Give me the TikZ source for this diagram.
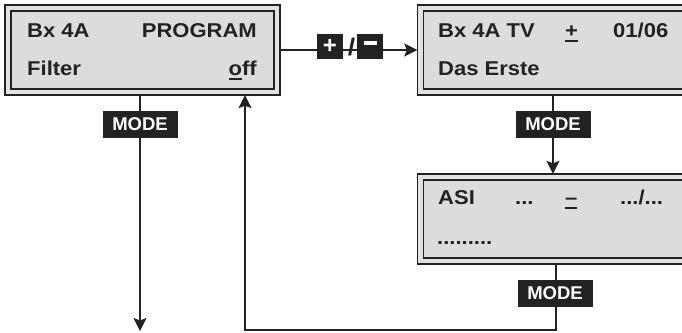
\documentclass[tikz,border=0pt]{standalone}
\usepackage{fontspec}
\setmainfont{Liberation Sans}
\newfontfamily\lcdfont{Liberation Sans}[FakeStretch=1.1]
\usepackage{xcolor}
\usepackage{tikz}
\usetikzlibrary{arrows.meta,positioning}
\definecolor{lcdgray}{HTML}{DCDCDC}
\definecolor{rimgray}{HTML}{E2E2E2}
\definecolor{inkdark}{HTML}{222222}
\newcommand\lcdmark[1]{\setbox0\hbox{#1}\rlap{\rule[-4.5pt]{\wd0}{2pt}}\box0}

\begin{document}
\begin{tikzpicture}[x=1pt,y=-1pt,
  lcdbox/.style={draw=inkdark,line width=1.5pt,double=rimgray,double distance=4.8pt,
    fill=lcdgray,outer sep=3.2pt,minimum height=84pt,inner sep=0pt},
  lcdtext/.style={font=\lcdfont\fontsize{20}{24}\selectfont\bfseries,text=inkdark,inner sep=0pt},
  keybox/.style={fill=inkdark,text=white,font=\fontsize{18.5}{20}\selectfont\bfseries,
    inner sep=0pt,minimum height=27pt},
  conn/.style={draw=inkdark,line width=1.3pt},
  tip/.style={-{Stealth[length=13pt,width=13pt,inset=2.5pt]}}]
  \useasboundingbox (0,0) rectangle (682,332);
  \clip (0,0) rectangle (682,332);

  % displays
  \node[lcdbox,minimum width=269pt] (prog) at (142.5,50) {};
  \node[lcdbox,minimum width=300pt] (tv) at (570.5,50) {};
  \node[lcdbox,minimum width=300pt] (asi) at (570.5,219) {};

  \node[lcdtext,anchor=base west] (progA) at (27,37) {Bx 4A};
  \node[lcdtext,anchor=base east] (progB) at (257,37) {PROGRAM};
  \node[lcdtext,anchor=base west] (progC) at (27,75) {Filter};
  \node[lcdtext,anchor=base east] (progD) at (257,75) {\lcdmark{o}ff};

  \node[lcdtext,anchor=base west] (tvA) at (438,37) {Bx 4A TV};
  \node[lcdtext,anchor=base west] (tvB) at (565,37) {\lcdmark{+}};
  \node[lcdtext,anchor=base west] (tvC) at (613,37) {01/06};
  \node[lcdtext,anchor=base west] (tvD) at (438,75) {Das Erste};

  \node[lcdtext,anchor=base west] (asiA) at (438,204) {ASI};
  \node[lcdtext,anchor=base west] (asiB) at (515,204) {...};
  \node[lcdtext,anchor=base west] (asiC) at (565,204) {\lcdmark{–}};
  \node[lcdtext,anchor=base west] (asiD) at (620,204) {.../...};
  \node[lcdtext,anchor=base west] (asiE) at (437,244) {.........};

  % connectors
  \coordinate (down1) at (140,331);
  \coordinate (down2) at (553,0);
  \coordinate (turn1) at (556,330);
  \coordinate (turn2) at (245,330);
  \draw[conn,tip] (prog.east) -- (tv.west);
  \draw[conn,tip] (prog.south -| down1) -- (down1);
  \draw[conn,tip] (tv.south -| down2) -- (asi.north -| down2);
  \draw[conn,tip] (asi.south -| turn1) -- (turn1) -- (turn2) -- (turn2 |- prog.south);

  % keys
  \node[keybox,minimum width=26pt,minimum height=25pt,font=\fontsize{24}{24}\selectfont\bfseries]
    (plus) at (330,46) {+};
  \node[text=inkdark,font=\lcdfont\fontsize{24}{24}\selectfont\bfseries,inner sep=0pt]
    (slash) at (351.5,47) {/};
  \node[keybox,minimum width=26pt,minimum height=25pt] (minus) at (370,46)
    {\rule[6pt]{13pt}{3.2pt}};
  \node[keybox,minimum width=75pt] (mode1) at (140,124) {MODE};
  \node[keybox,minimum width=75pt] (mode2) at (553,124.5) {MODE};
  \node[keybox,minimum width=75pt] (mode3) at (555,293.5) {MODE};
\end{tikzpicture}
\end{document}
